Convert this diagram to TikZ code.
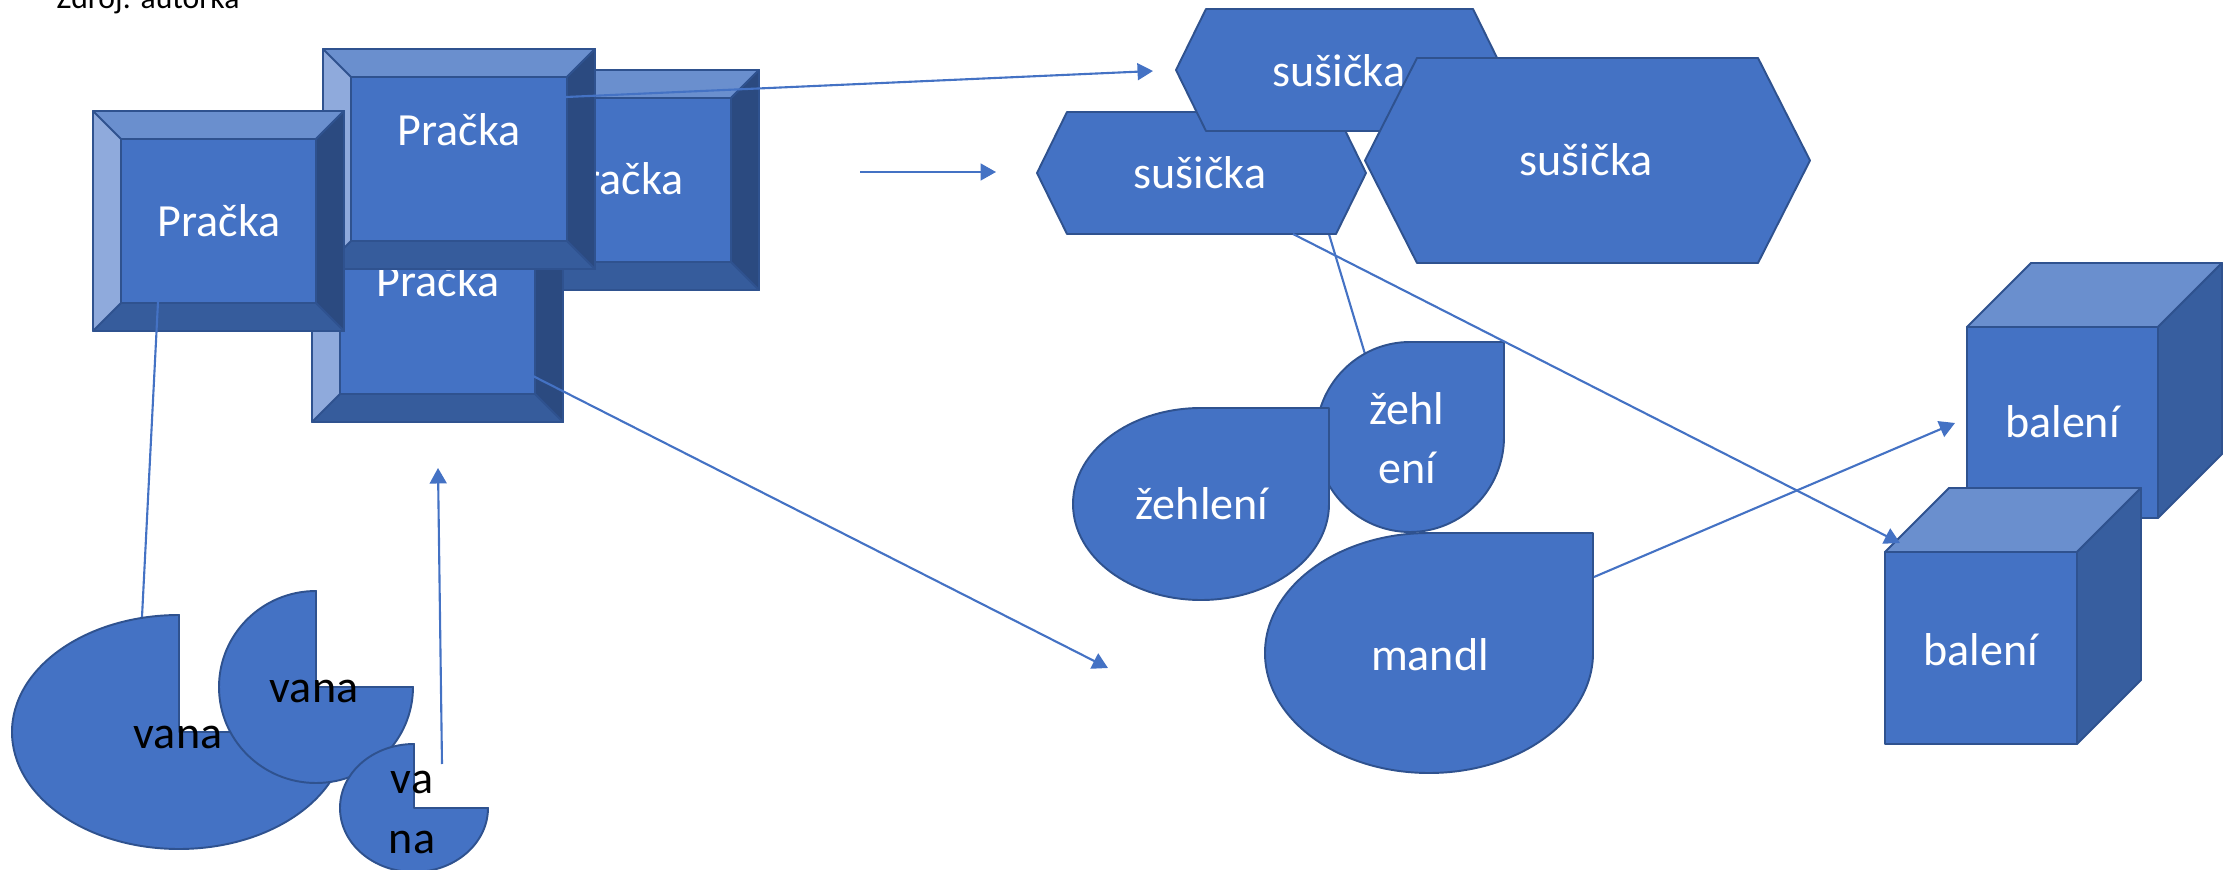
\documentclass[tikz,border=0pt]{standalone}
\usepackage{fontspec}
\setmainfont{Carlito}
\usetikzlibrary{arrows.meta}

\definecolor{modra}{HTML}{4472C4}
\definecolor{obrys}{HTML}{2F528F}
\definecolor{svetla}{HTML}{6A8FCE}
\definecolor{nejsvetlejsi}{HTML}{8FAADC}
\definecolor{tmava}{HTML}{2B4A80}
\definecolor{stredni}{HTML}{365C9C}
\definecolor{bok}{HTML}{375E9F}

\begin{document}
\begin{tikzpicture}[x=0.01cm, y=0.01cm, yscale=-1, line join=round,
	tvar/.style={fill=modra, draw=obrys, line width=0.55pt},
	popis/.style={anchor=base, inner sep=0pt, text=white, font=\fontsize{13.1}{15}\selectfont},
	popiscerny/.style={popis, text=black},
	spoj/.style={draw=modra, line width=0.6pt},
	sipka/.style={spoj, -{Triangle[length=4.4pt, width=4.8pt]}}]
	\useasboundingbox (0, 0) rectangle (2223, 870);
	\clip (0, 0) rectangle (2223, 870);

	% Zdroj
	\node[anchor=base west, inner sep=0pt, font=\fontsize{9}{11}\selectfont] (zdroj) at (56, 9) {Zdroj: autorka};

	% Konce spojnic
	\coordinate (pB-ven) at (566, 97);
	\coordinate (s1-vstup) at (1153, 71);
	\coordinate (volny-a) at (860, 172);
	\coordinate (volny-b) at (996, 172);
	\coordinate (pC-ven) at (531, 375);
	\coordinate (konec-c) at (1108, 668);
	\coordinate (pA-dol) at (158, 302);
	\coordinate (v1-hor) at (142, 617);
	\coordinate (vana-dol) at (442, 764);
	\coordinate (vana-hor) at (438, 468);
	\coordinate (s1-dol) at (1298, 131);
	\coordinate (z2-hor) at (1365, 354);
	\coordinate (s2-dol) at (1293, 234);
	\coordinate (k2-roh) at (1900, 543);
	\coordinate (m-ven) at (1594, 577);
	\coordinate (k1-vstup) at (1955, 423);

	% Spojnice pod sušičkami
	\draw[spoj] (s1-dol) -- (z2-hor);

	% Pračky
	\foreach \n/\xa/\ya/\xb/\yb/\tx/\ty in {D/508/70/759/290/622/195, C/312/202/563/422/438/297, B/323/49/595/269/459/146, A/93/111/344/331/219/237} {
		\filldraw[tvar, fill=nejsvetlejsi] (\xa, \ya) rectangle (\xb, \yb);
		\filldraw[tvar, fill=svetla] (\xa, \ya) -- (\xb, \ya) -- (\xb-28, \ya+28) -- (\xa+28, \ya+28) -- cycle;
		\filldraw[tvar, fill=tmava] (\xb, \ya) -- (\xb, \yb) -- (\xb-28, \yb-28) -- (\xb-28, \ya+28) -- cycle;
		\filldraw[tvar, fill=stredni] (\xa, \yb) -- (\xb, \yb) -- (\xb-28, \yb-28) -- (\xa+28, \yb-28) -- cycle;
		\filldraw[tvar] (\xa+28, \ya+28) rectangle (\xb-28, \yb-28);
		\node[popis] (p\n) at (\tx, \ty) {Pračka};
	}

	\draw[spoj] (pA-dol) -- (v1-hor);
	\draw[sipka] (pB-ven) -- (s1-vstup);
	\draw[sipka] (pC-ven) -- (konec-c);

	% Vany
	\foreach \n/\cx/\cy/\rx/\ry/\tx/\ty in {1/179/732/167/117/178/748, 2/316/687/97/96/314/702} {
		\filldraw[tvar] (\cx, \cy) -- (\cx, \cy-\ry) arc[start angle=270, end angle=0, x radius=\rx, y radius=\ry] -- cycle;
		\node[popiscerny] (v\n) at (\tx, \ty) {vana};
	}
	\filldraw[tvar] (414, 808) -- (414, 744) arc[start angle=270, end angle=0, x radius=74, y radius=64] -- cycle;
	\node[popiscerny] (v3a) at (412, 793) {va};
	\node[popiscerny] (v3b) at (412, 853) {na};

	\draw[sipka] (vana-dol) -- (vana-hor);

	% Sušičky
	\foreach \n/\xa/\ya/\xb/\yb/\d/\tx/\ty in {2/1037/112/1366/234/30/1200/189, 1/1176/9/1503/131/30/1339/87, 3/1365/58/1810/263/52/1586/176} {
		\filldraw[tvar] (\xa, {(\ya+\yb)/2}) -- (\xa+\d, \ya) -- (\xb-\d, \ya) -- (\xb, {(\ya+\yb)/2}) -- (\xb-\d, \yb) -- (\xa+\d, \yb) -- cycle;
		\node[popis] (s\n) at (\tx, \ty) {sušička};
	}

	\draw[sipka] (volny-a) -- (volny-b);

	% Žehlení a mandl
	\foreach \n/\cx/\cy/\rx/\ry in {2/1410/437/94/95, 1/1201/504/128/96, 3/1429/653/164/120} {
		\filldraw[tvar] (\cx-\rx, \cy) arc[start angle=180, end angle=270, x radius=\rx, y radius=\ry] -- (\cx+\rx, \cy-\ry) -- (\cx+\rx, \cy) arc[start angle=0, end angle=180, x radius=\rx, y radius=\ry] -- cycle;
	}
	\node[popis] (z1) at (1202, 519) {žehlení};
	\node[popis] (z2a) at (1407, 425) {žehl};
	\node[popis] (z2b) at (1407, 483) {ení};
	\node[popis] (mandl) at (1430, 670) {mandl};

	% Balení
	\foreach \n/\xa/\ya/\s/\d/\ty in {1/1967/327/191/64/438, 2/1885/552/192/64/665} {
		\filldraw[tvar] (\xa, \ya) rectangle (\xa+\s, \ya+\s);
		\filldraw[tvar, fill=svetla] (\xa, \ya) -- (\xa+\d, \ya-\d) -- (\xa+\s+\d, \ya-\d) -- (\xa+\s, \ya) -- cycle;
		\filldraw[tvar, fill=bok] (\xa+\s, \ya) -- (\xa+\s+\d, \ya-\d) -- (\xa+\s+\d, \ya+\s-\d) -- (\xa+\s, \ya+\s) -- cycle;
		\node[popis] (k\n) at ({\xa+\s/2}, \ty) {balení};
	}

	\draw[sipka] (s2-dol) -- (k2-roh);
	\draw[sipka] (m-ven) -- (k1-vstup);
\end{tikzpicture}
\end{document}
